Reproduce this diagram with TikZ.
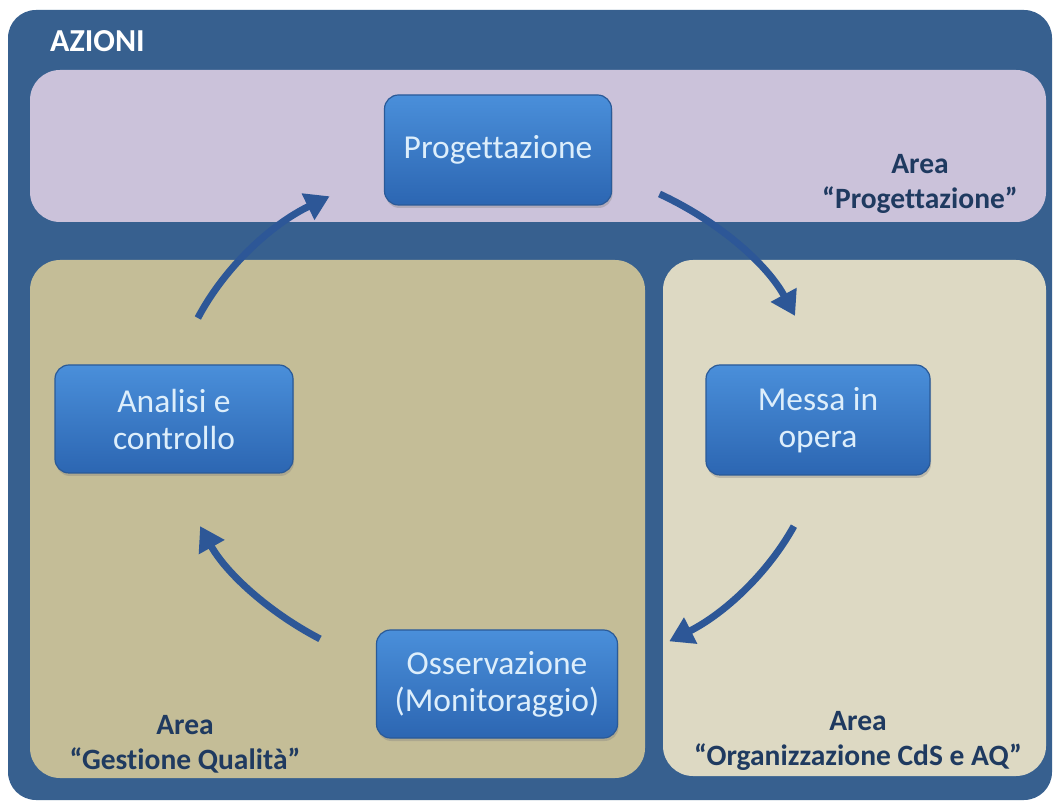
\documentclass[tikz,border=0pt]{standalone}
\usepackage{fontspec}
\setmainfont{Carlito}[Ligatures=NoCommon]
\usetikzlibrary{arrows.meta,shadows}
\definecolor{outerblue}{HTML}{37608F}
\definecolor{areapurple}{HTML}{CBC2DA}
\definecolor{areatan}{HTML}{C4BD97}
\definecolor{arealight}{HTML}{DDD9C3}
\definecolor{labelblue}{HTML}{1F3A60}
\definecolor{arrowblue}{HTML}{2D5797}
\definecolor{boxtop}{HTML}{4A8FDA}
\definecolor{boxbot}{HTML}{2C66B2}
\definecolor{boxedge}{HTML}{2A5A98}
\definecolor{boxtext}{HTML}{DDEEFB}
\begin{document}
\begin{tikzpicture}[x=1pt,y=1pt,
  areabox/.style={rounded corners=30pt, inner sep=0pt},
  actbox/.style={draw=boxedge, line width=1.2pt, rounded corners=14pt,
    top color=boxtop, bottom color=boxbot, inner sep=0pt, align=center,
    text=boxtext, font=\fontsize{33.5}{37}\selectfont,
    drop shadow={shadow xshift=1pt, shadow yshift=-3pt, opacity=0.35}},
  arealabel/.style={align=center, text=labelblue, font=\bfseries\fontsize{29.5}{35}\selectfont, inner sep=0pt},
  flowarrow/.style={draw=arrowblue, line width=7pt, -{Triangle[length=24pt, width=28pt]}}]
\useasboundingbox (0,0) rectangle (1054,803);
\fill[white] (0,0) rectangle (1054,803);
\fill[outerblue, rounded corners=28pt] (8,3) rectangle (1052,793);
\node[anchor=base west, text=white, font=\bfseries\fontsize{32}{38}\selectfont, inner sep=0pt] (title) at (50,751) {AZIONI};
% areas
\node[areabox, fill=areapurple, minimum width=1016pt, minimum height=152pt] (areaP) at (538,657) {};
\node[areabox, fill=areatan, minimum width=615pt, minimum height=518pt] (areaG) at (337.5,284) {};
\node[areabox, fill=arealight, minimum width=383pt, minimum height=516pt] (areaO) at (854.5,285) {};
% area labels
\node[arealabel] (labP) at (920,619) {Area\\“Progettazione”};
\node[arealabel] (labG) at (185,59) {Area\\“Gestione Qualità”};
\node[arealabel] (labO) at (858,62) {Area\\“Organizzazione CdS e AQ”};
% action boxes
\node[actbox, minimum width=227pt, minimum height=110pt] (prog) at (498,653) {Progettazione};
\node[actbox, minimum width=238pt, minimum height=108pt] (anal) at (174,384) {Analisi e\\controllo};
\node[actbox, minimum width=224pt, minimum height=110pt] (messa) at (818,383) {Messa in\\opera};
\node[actbox, minimum width=241pt, minimum height=108pt] (oss) at (497,119) {Osservazione\\(Monitoraggio)};
% arrows along an ellipse centred at (497,383)
\coordinate (a1s) at ({497+325*cos(157)},{383+261*sin(157)});
\coordinate (a2s) at ({497+325*cos(60)},{383+261*sin(60)});
\coordinate (a3s) at ({497+325*cos(-24)},{383+261*sin(-24)});
\coordinate (a4s) at ({497+325*cos(-123)},{383+261*sin(-123)});
\draw[flowarrow] (a1s) arc[start angle=157, end angle=121, x radius=325pt, y radius=261pt];
\draw[flowarrow] (a2s) arc[start angle=60, end angle=23.5, x radius=325pt, y radius=261pt];
\draw[flowarrow] (a3s) arc[start angle=-24, end angle=-58, x radius=325pt, y radius=261pt];
\draw[flowarrow] (a4s) arc[start angle=-123, end angle=-156, x radius=325pt, y radius=261pt];
\end{tikzpicture}
\end{document}
